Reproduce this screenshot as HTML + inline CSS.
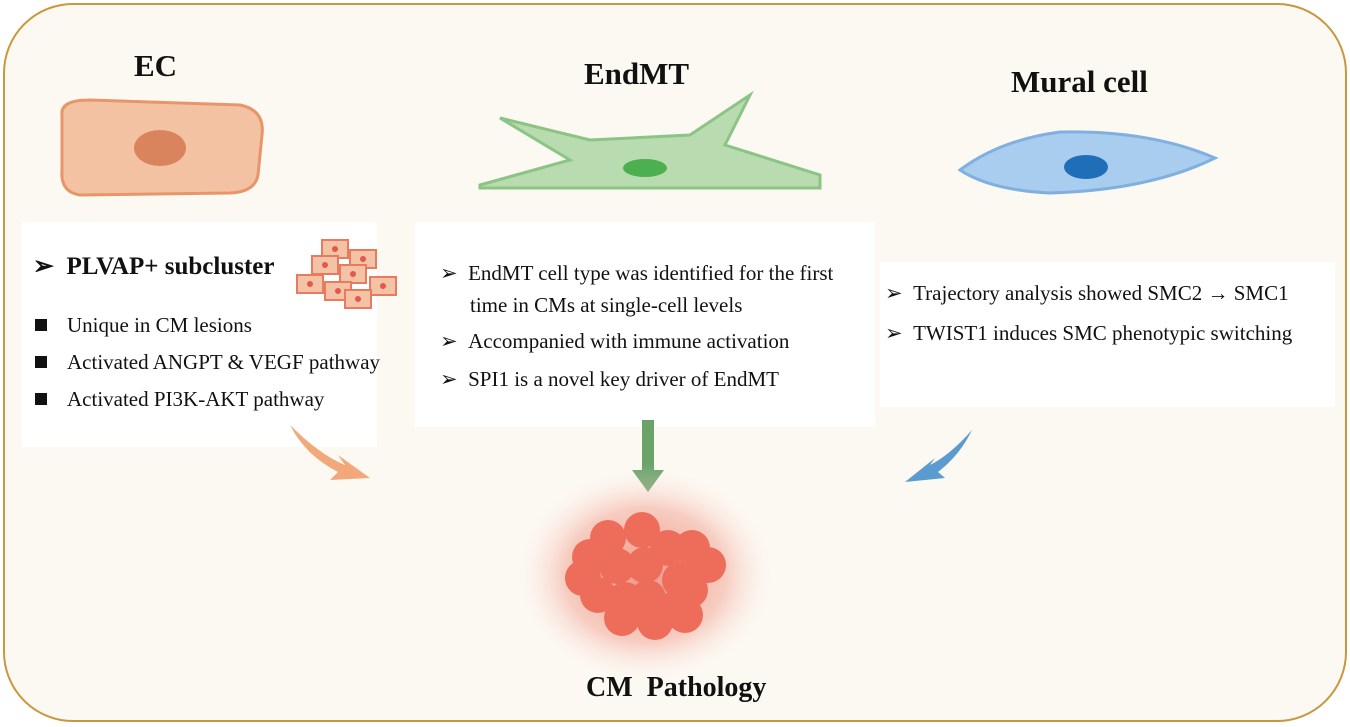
<!DOCTYPE html>
<html><head><style>
body{margin:0;width:1350px;height:727px;background:#fff;position:relative;overflow:hidden;font-family:"Liberation Serif",serif;}
.frame{position:absolute;left:3px;top:3px;width:1340px;height:715px;border:2px solid #c9973f;border-radius:70px;background:#fcf9f2;}
.box{position:absolute;background:#fff;}
.t{position:absolute;font-size:21px;color:#111;white-space:nowrap;}
.h{position:absolute;font-size:31px;font-weight:bold;color:#111;}
.sq{display:inline-block;width:12px;height:12px;background:#111;margin-right:20px;vertical-align:1px;}
</style></head><body>
<div class="frame"></div>
<div class="box" style="left:22px;top:222px;width:355px;height:225px"></div>
<div class="box" style="left:415px;top:222px;width:460px;height:205px"></div>
<div class="box" style="left:880px;top:262px;width:455px;height:145px"></div>

<div class="h" style="left:134px;top:48px">EC</div>
<div class="h" style="left:584px;top:56px">EndMT</div>
<div class="h" style="left:1011px;top:64px">Mural cell</div>

<svg width="1350" height="727" style="position:absolute;left:0;top:0">
<defs>
<radialGradient id="glow" cx="50%" cy="50%" r="50%"><stop offset="0" stop-color="#ec7b6a" stop-opacity=".8"/><stop offset=".6" stop-color="#f2a090" stop-opacity=".5"/><stop offset="1" stop-color="#fff" stop-opacity="0"/></radialGradient>
</defs>
<path d="M62 115 Q60 100 90 100 L240 105 Q265 110 262 135 L258 175 Q255 192 230 193 L80 195 Q60 192 62 170 Z" fill="#f3c2a2" stroke="#e8956a" stroke-width="3"/>
<ellipse cx="160" cy="148" rx="26" ry="18" fill="#d9845c"/>
<path d="M480 185 L570 160 L500 118 L590 140 L690 135 L750 95 L725 145 L820 175 L820 188 L480 188 Z" fill="#b8dcb0" stroke="#8cc485" stroke-width="3"/>
<ellipse cx="645" cy="168" rx="22" ry="9" fill="#4caf50"/>
<path d="M960 170 Q1000 140 1060 132 Q1150 130 1215 158 Q1150 190 1050 193 Q990 190 960 170 Z" fill="#a9cdee" stroke="#7fb0e0" stroke-width="3"/>
<ellipse cx="1086" cy="167" rx="22" ry="12" fill="#1e6fb8"/>
<g fill="#f4c2a5" stroke="#e77a5f" stroke-width="2">
<rect x="322" y="240" width="26" height="18"/><rect x="350" y="250" width="26" height="18"/>
<rect x="312" y="256" width="26" height="18"/><rect x="340" y="265" width="26" height="18"/>
<rect x="297" y="275" width="26" height="18"/><rect x="325" y="282" width="26" height="18"/>
<rect x="370" y="277" width="26" height="18"/><rect x="345" y="290" width="26" height="18"/>
</g>
<g fill="#e3584a"><circle cx="335" cy="249" r="3"/><circle cx="363" cy="259" r="3"/><circle cx="325" cy="265" r="3"/><circle cx="353" cy="274" r="3"/><circle cx="310" cy="284" r="3"/><circle cx="338" cy="291" r="3"/><circle cx="383" cy="286" r="3"/><circle cx="358" cy="299" r="3"/></g>
<path d="M290 425 Q320 455 345 465 L338 455 L370 478 L330 480 L338 472 Q305 455 290 425 Z" fill="#f2a87a"/>
<path d="M642 420 L654 420 L654 470 L664 470 L648 492 L632 470 L642 470 Z" fill="#6aa26a"/>
<path d="M972 430 Q950 455 930 465 L935 458 L905 482 L945 478 L938 472 Q960 455 972 430 Z" fill="#5b9bd0"/>
<ellipse cx="645" cy="575" rx="135" ry="112" fill="url(#glow)"/>
<g fill="#ee6d5a">
<circle cx="608" cy="538" r="18"/><circle cx="642" cy="530" r="18"/><circle cx="668" cy="548" r="18"/><circle cx="692" cy="548" r="18"/><circle cx="708" cy="565" r="18"/>
<circle cx="590" cy="557" r="18"/><circle cx="583" cy="578" r="18"/><circle cx="598" cy="595" r="18"/><circle cx="617" cy="566" r="18"/><circle cx="645" cy="565" r="18"/><circle cx="680" cy="580" r="18"/>
<circle cx="625" cy="600" r="18"/><circle cx="648" cy="598" r="18"/><circle cx="673" cy="610" r="18"/><circle cx="690" cy="590" r="18"/><circle cx="622" cy="618" r="18"/><circle cx="655" cy="622" r="18"/><circle cx="685" cy="615" r="18"/>
</g>
</svg>

<div class="t" style="left:33px;top:251px;font-size:25px;font-weight:bold">➢&nbsp;&nbsp;PLVAP+ subcluster</div>
<div class="t" style="left:35px;top:313px"><span class="sq"></span>Unique in CM lesions</div>
<div class="t" style="left:35px;top:350px"><span class="sq"></span>Activated ANGPT &amp; VEGF pathway</div>
<div class="t" style="left:35px;top:387px"><span class="sq"></span>Activated PI3K-AKT pathway</div>

<div class="t" style="left:440px;top:261px">➢&nbsp;&nbsp;EndMT cell type was identified for the first</div>
<div class="t" style="left:470px;top:293px">time in CMs at single-cell levels</div>
<div class="t" style="left:440px;top:329px">➢&nbsp;&nbsp;Accompanied with immune activation</div>
<div class="t" style="left:440px;top:367px">➢&nbsp;&nbsp;SPI1 is a novel key driver of EndMT</div>

<div class="t" style="left:885px;top:281px">➢&nbsp;&nbsp;Trajectory analysis showed SMC2 → SMC1</div>
<div class="t" style="left:885px;top:321px">➢&nbsp;&nbsp;TWIST1 induces SMC phenotypic switching</div>

<div class="t" style="left:586px;top:672px;font-size:28px;font-weight:bold">CM&nbsp; Pathology</div>
</body></html>
